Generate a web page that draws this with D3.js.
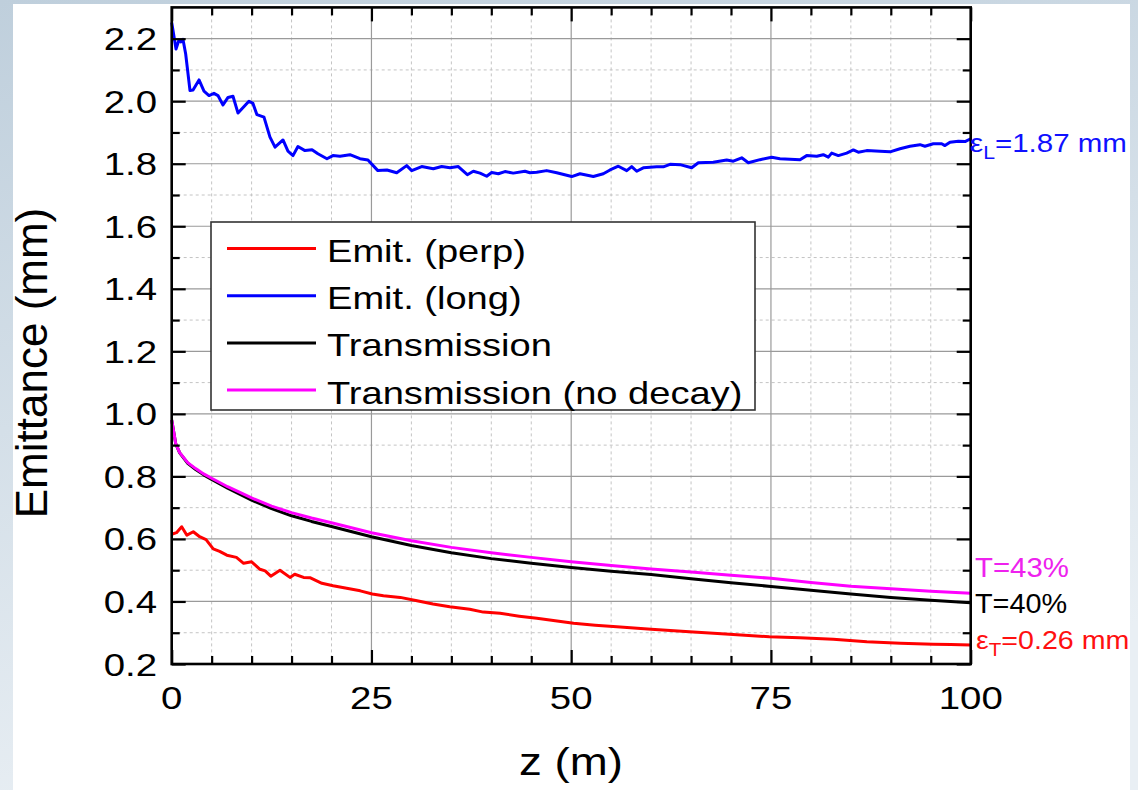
<!DOCTYPE html>
<html>
<head>
<meta charset="utf-8">
<script src="https://cdn.jsdelivr.net/npm/d3@7"></script>
<style>
  body { margin: 0; }
  svg { display: block; }
</style>
</head>
<body>
<svg id="chart" width="1138" height="790"></svg>
<script>
// emittance (long)
var longZ = [0, 0.54, 0.91, 1.16, 1.41, 1.75, 2.29, 2.67, 3.42, 4.04,
  4.67, 5.29, 5.79, 6.42, 7.05, 7.67, 8.3, 9.17, 9.67, 10.17,
  10.67, 11.55, 12.3, 12.93, 13.93, 14.55, 15.18, 15.8, 16.68, 17.56,
  18.3, 19.43, 20.18, 21.06, 22.31, 23.56, 24.56, 25.8, 26.94, 28.16,
  29.41, 30.04, 31.29, 32.74, 33.79, 34.83, 35.87, 37.0, 37.75, 38.59,
  39.42, 40.05, 40.88, 41.71, 42.75, 44.21, 44.84, 45.68, 46.93, 48.19,
  50.06, 51.1, 52.77, 54.02, 54.86, 55.9, 56.95, 57.57, 58.2, 59.02,
  60.7, 61.53, 62.37, 63.62, 65.08, 65.91, 67.78, 69.46, 70.29, 71.34,
  72.17, 73.63, 75.09, 76.13, 78.64, 79.47, 80.73, 81.55, 82.18, 82.6,
  83.43, 84.48, 85.31, 85.93, 86.98, 88.65, 89.9, 91.15, 92.4, 93.65,
  94.27, 95.32, 96.37, 96.78, 97.41, 98.45, 99.29, 100];
var longE = [2.252, 2.167, 2.196, 2.19, 2.198, 2.151, 2.034, 2.036, 2.068, 2.032,
  2.018, 2.025, 2.018, 1.988, 2.012, 2.016, 1.962, 1.986, 2.0, 1.993,
  1.957, 1.949, 1.885, 1.853, 1.876, 1.84, 1.826, 1.855, 1.842, 1.845,
  1.832, 1.816, 1.826, 1.824, 1.829, 1.816, 1.812, 1.778, 1.78, 1.771,
  1.794, 1.778, 1.791, 1.784, 1.791, 1.787, 1.791, 1.765, 1.776, 1.770,
  1.760, 1.772, 1.768, 1.775, 1.770, 1.776, 1.771, 1.773, 1.778, 1.771,
  1.759, 1.768, 1.759, 1.768, 1.780, 1.792, 1.778, 1.791, 1.776, 1.787,
  1.790, 1.790, 1.798, 1.797, 1.787, 1.803, 1.805, 1.812, 1.808, 1.819,
  1.803, 1.813, 1.821, 1.816, 1.813, 1.826, 1.824, 1.829, 1.821, 1.834,
  1.826, 1.834, 1.844, 1.837, 1.842, 1.84, 1.838, 1.848, 1.856, 1.861,
  1.856, 1.864, 1.864, 1.858, 1.869, 1.872, 1.871, 1.880];

// emittance (perp)
var perpZ = [0, 0.6, 1.25, 1.9, 2.7, 3.5, 4.3, 5.2, 6.0, 6.9,
  8.1, 9.0, 10.0, 11.05, 11.7, 12.4, 13.55, 14.8, 15.4, 16.5,
  17.3, 18.8, 20.2, 21.9, 23.6, 25.1, 26.5, 28.6, 30.7, 32.7,
  34.8, 37.3, 39.0, 41.1, 43.5, 45.7, 48, 50.3, 53, 55.7,
  60, 64.8, 69.3, 74.8, 78.6, 82.8, 87, 91.2, 95.3, 97.5, 100];
var perpE = [0.615, 0.62, 0.639, 0.612, 0.623, 0.607, 0.598, 0.568, 0.56, 0.548,
  0.541, 0.522, 0.527, 0.503, 0.498, 0.481, 0.50, 0.477, 0.487, 0.477,
  0.476, 0.458, 0.45, 0.442, 0.434, 0.424, 0.418, 0.413, 0.402, 0.392,
  0.383, 0.375, 0.366, 0.362, 0.353, 0.346, 0.338, 0.33, 0.324, 0.319,
  0.311, 0.303, 0.296, 0.287, 0.284, 0.279, 0.271, 0.266, 0.263, 0.262, 0.261];

// transmission, with and without decay
var transZ = [0, 0.5, 1, 2, 3, 4, 5, 7, 10, 12.5, 15, 17.5, 20, 25, 30,
  35, 40, 45, 50, 55, 60, 65, 70, 75, 80, 85, 90, 95, 100];
var trans = [0.98, 0.905, 0.875, 0.842, 0.822, 0.805, 0.79, 0.762, 0.724, 0.697,
  0.674, 0.656, 0.640, 0.607, 0.579, 0.556, 0.537, 0.522, 0.509, 0.497,
  0.486, 0.473, 0.460, 0.448, 0.436, 0.424, 0.413, 0.404, 0.396];
var noDecay = [0.98, 0.905, 0.876, 0.844, 0.825, 0.808, 0.794, 0.767, 0.731, 0.705,
  0.684, 0.667, 0.652, 0.620, 0.594, 0.573, 0.556, 0.541, 0.527, 0.515,
  0.504, 0.494, 0.484, 0.474, 0.461, 0.449, 0.441, 0.433, 0.426];

var legendNames = ["Emit. (perp)", "Emit. (long)", "Transmission", "Transmission (no decay)"];
var legendColors = ["#ff0000", "#0000ff", "#000000", "#ff00ff"];

var xMajor = [0, 25, 50, 75, 100];
var xMinor = [5, 10, 15, 20, 30, 35, 40, 45, 55, 60, 65, 70, 80, 85, 90, 95];
var yMajor = [0.2, 0.4, 0.6, 0.8, 1.0, 1.2, 1.4, 1.6, 1.8, 2.0, 2.2];
var yMinor = [0.3, 0.5, 0.7, 0.9, 1.1, 1.3, 1.5, 1.7, 1.9, 2.1];

var FONT = "'Liberation Sans', Arial, Helvetica, sans-serif";

var svg = d3.select("#chart");

// slide background
var defs = svg.append("defs");
var grad = defs.append("linearGradient").attr("id", "bg")
  .attr("x1", 0).attr("y1", 0).attr("x2", 0.3).attr("y2", 1);
grad.append("stop").attr("offset", 0).attr("stop-color", "#bfcfdc");
grad.append("stop").attr("offset", 1).attr("stop-color", "#e9eff4");
svg.append("rect").attr("width", 1138).attr("height", 790).attr("fill", "url(#bg)");
svg.append("rect").attr("x", 13).attr("y", 4).attr("width", 1117).attr("height", 786).attr("fill", "#fff");

var pLeft = 171.7, pRight = 970.7, pTop = 7.4, pBottom = 664;
var x = d3.scaleLinear().domain([0, 100]).range([pLeft, pRight]);
var y = d3.scaleLinear().domain([0.2, 2.3]).range([pBottom, pTop]);

// grid
var grid = svg.append("g");
grid.selectAll(".gxm").data(xMinor).enter().append("line")
  .attr("x1", function(d){ return x(d); }).attr("x2", function(d){ return x(d); })
  .attr("y1", pTop).attr("y2", pBottom)
  .attr("stroke", "#c4c4c4").attr("stroke-width", 1).attr("stroke-dasharray", "3,3");
grid.selectAll(".gym").data(yMinor).enter().append("line")
  .attr("y1", function(d){ return y(d); }).attr("y2", function(d){ return y(d); })
  .attr("x1", pLeft).attr("x2", pRight)
  .attr("stroke", "#c4c4c4").attr("stroke-width", 1).attr("stroke-dasharray", "3,3");
grid.selectAll(".gx").data(xMajor).enter().append("line")
  .attr("x1", function(d){ return x(d); }).attr("x2", function(d){ return x(d); })
  .attr("y1", pTop).attr("y2", pBottom)
  .attr("stroke", "#9a9a9a").attr("stroke-width", 1.2);
grid.selectAll(".gy").data(yMajor).enter().append("line")
  .attr("y1", function(d){ return y(d); }).attr("y2", function(d){ return y(d); })
  .attr("x1", pLeft).attr("x2", pRight)
  .attr("stroke", "#9a9a9a").attr("stroke-width", 1.2);

// series
function drawLine(zs, vs, color) {
  var pts = zs.map(function(z, i){ return [z, vs[i]]; });
  var line = d3.line().x(function(d){ return x(d[0]); }).y(function(d){ return y(d[1]); });
  svg.append("path").datum(pts).attr("d", line)
    .attr("fill", "none").attr("stroke", color).attr("stroke-width", 3)
    .attr("stroke-linejoin", "round");
}
drawLine(perpZ, perpE, legendColors[0]);
drawLine(transZ, trans, legendColors[2]);
drawLine(transZ, noDecay, legendColors[3]);
drawLine(longZ, longE, legendColors[1]);

// ticks (inward on all four sides)
function ticks(axis, tx, ty, vals, size) {
  var g = svg.append("g").attr("transform", "translate(" + tx + "," + ty + ")")
    .call(axis.tickValues(vals).tickSize(-size).tickSizeOuter(0).tickFormat(""));
  g.select(".domain").remove();
  g.selectAll("line").attr("stroke", "#000").attr("stroke-width", 2.2);
}
ticks(d3.axisBottom(x), 0, pBottom, xMajor, 14);
ticks(d3.axisBottom(x), 0, pBottom, xMinor, 8);
ticks(d3.axisTop(x), 0, pTop, xMajor, 14);
ticks(d3.axisTop(x), 0, pTop, xMinor, 8);
ticks(d3.axisLeft(y), pLeft, 0, yMajor, 14);
ticks(d3.axisLeft(y), pLeft, 0, yMinor, 8);
ticks(d3.axisRight(y), pRight, 0, yMajor, 14);
ticks(d3.axisRight(y), pRight, 0, yMinor, 8);

svg.append("rect").attr("x", pLeft).attr("y", pTop)
  .attr("width", pRight - pLeft).attr("height", pBottom - pTop)
  .attr("fill", "none").attr("stroke", "#000").attr("stroke-width", 2.6);

// text helper: the source picture is stretched horizontally
function label(px, py, str, size, sx, anchor, color) {
  return svg.append("text")
    .attr("transform", "translate(" + px + "," + py + ") scale(" + sx + ",1)")
    .attr("text-anchor", anchor || "start")
    .attr("font-family", FONT).attr("font-size", size)
    .attr("fill", color || "#000")
    .text(str);
}

var fmt = d3.format(".1f");
yMajor.forEach(function(v){ label(157, y(v) + 11.5, fmt(v), 32, 1.2, "end"); });
xMajor.forEach(function(v){ label(x(v), 709, String(v), 32, 1.2, "middle"); });

label(571, 775, "z (m)", 38, 1.2, "middle");
svg.append("text")
  .attr("transform", "translate(47,363) rotate(-90)")
  .attr("text-anchor", "middle")
  .attr("font-family", FONT).attr("font-size", 44)
  .text("Emittance (mm)");

// legend
var lg = svg.append("g");
lg.append("rect").attr("x", 211).attr("y", 222).attr("width", 544).attr("height", 188)
  .attr("fill", "#fff").attr("stroke", "#333").attr("stroke-width", 1.6);
legendNames.forEach(function(name, i){
  var ry = 248.5 + i * 47.2;
  lg.append("line").attr("x1", 227).attr("x2", 316).attr("y1", ry).attr("y2", ry)
    .attr("stroke", legendColors[i]).attr("stroke-width", 3);
  label(327, ry + 13.5, name, 32, 1.19, "start");
});

// end-of-line annotations
function subLabel(px, py, sub, rest, size, sx, color) {
  var t = label(px, py, "\u03b5", size, sx, "start", color);
  t.append("tspan").attr("font-size", size * 0.72).attr("dy", 7).text(sub);
  t.append("tspan").attr("dy", -7).text(rest);
}
subLabel(970, 152, "L", "=1.87 mm", 25, 1.18, "#1010ff");
label(975, 577, "T=43%", 28, 1.05, "start", "#ee22ee");
label(975, 613, "T=40%", 28, 1.03, "start", "#000");
subLabel(976, 649, "T", "=0.26 mm", 26, 1.1, "#ff1010");
</script>
</body>
</html>
